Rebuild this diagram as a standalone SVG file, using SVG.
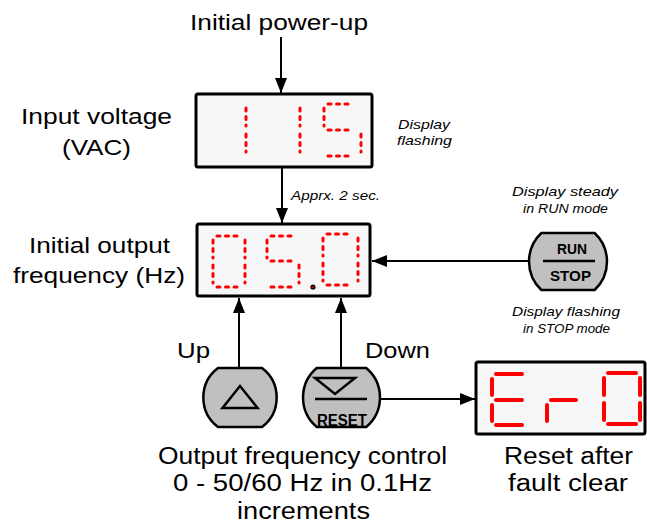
<svg xmlns="http://www.w3.org/2000/svg" width="647" height="527" viewBox="0 0 647 527">
<style>
.lbl{font-family:"Liberation Sans",Arial,sans-serif;font-size:22px;fill:#000;text-anchor:middle}
.big{font-size:23px}
.note{font-family:"Liberation Sans",Arial,sans-serif;font-size:13px;font-style:italic;fill:#000;text-anchor:middle}
.btxt{font-family:"Liberation Sans",Arial,sans-serif;font-size:15px;font-weight:bold;fill:#000;text-anchor:middle}
.disp{fill:#f7f7f7;stroke:#000;stroke-width:3}
.btn{fill:#c0c0c0;stroke:#000;stroke-width:2.5}
.seg{stroke:#ff0000;stroke-width:3;stroke-dasharray:3 5.5;stroke-linecap:round;fill:none}
.sol{stroke:#ff0000;stroke-width:4;stroke-linecap:round;fill:none}
.conn{stroke:#000;stroke-width:2;fill:none;marker-end:url(#ah)}
.ink{stroke:#000;stroke-width:2.5;fill:none}
</style>
<defs>
<marker id="ah" markerUnits="userSpaceOnUse" markerWidth="15" markerHeight="12" refX="15" refY="6" orient="auto">
<path d="M0,0 L15,6 L0,12 Z" fill="#000"/>
</marker>
</defs>

<g id="connectors">
<line class="conn" x1="281" y1="37" x2="281" y2="93"/>
<line class="conn" x1="282" y1="167" x2="282" y2="223"/>
<line class="conn" x1="529" y1="261" x2="372" y2="261"/>
<line class="conn" x1="239" y1="368" x2="239" y2="298"/>
<line class="conn" x1="341" y1="368" x2="341" y2="298"/>
<line class="conn" x1="380" y1="399" x2="475" y2="399"/>
</g>

<g id="power-up">
<text class="lbl" x="279" y="30" textLength="178" lengthAdjust="spacingAndGlyphs">Initial power-up</text>
</g>

<g id="input-voltage-label">
<text class="lbl" x="96.5" y="124" textLength="151" lengthAdjust="spacingAndGlyphs">Input voltage</text>
<text class="lbl" x="96.5" y="155" textLength="69" lengthAdjust="spacingAndGlyphs">(VAC)</text>
</g>

<g id="input-voltage-display">
<rect class="disp" x="196" y="94" width="176" height="73" rx="2"/>
<path class="seg" d="M246,108V126M246,134V152"/>
<path class="seg" d="M300,108V126M300,134V152"/>
<path class="seg" d="M328,104H351M324,108V126M328,130H351M361,134V152M328,156H351"/>
<text class="note" x="424" y="129" textLength="52" lengthAdjust="spacingAndGlyphs">Display</text>
<text class="note" x="424.5" y="145" textLength="55" lengthAdjust="spacingAndGlyphs">flashing</text>
</g>

<g id="delay-label">
<text class="note" x="335.5" y="200" textLength="89" lengthAdjust="spacingAndGlyphs">Apprx. 2 sec.</text>
</g>

<g id="output-frequency-label">
<text class="lbl" x="99.5" y="253" textLength="141" lengthAdjust="spacingAndGlyphs">Initial output</text>
<text class="lbl" x="99" y="283" textLength="172" lengthAdjust="spacingAndGlyphs">frequency (Hz)</text>
</g>

<g id="output-frequency-display">
<rect class="disp" x="197" y="224" width="173" height="72" rx="2"/>
<path class="seg" d="M217,236H238M213,240V258M213,265V283M245,240V258M245,265V283M217,287H238"/>
<path class="seg" d="M271,236H292M267,240V258M271,261H292M299,265V283M271,287H292"/>
<circle cx="313" cy="287" r="2.6" fill="#000"/>
<line x1="311.8" y1="288" x2="314.2" y2="286" stroke="#ff0000" stroke-width="1.2"/>
<path class="seg" d="M327,234H352M323,238V256M323,263V281M358,238V256M358,263V281M327,285H352"/>
</g>

<g id="run-stop-button">
<text class="note" x="565" y="196" textLength="106" lengthAdjust="spacingAndGlyphs">Display steady</text>
<text class="note" x="565.5" y="213" textLength="85" lengthAdjust="spacingAndGlyphs">in RUN mode</text>
<path class="btn" d="M541.4,233H594.6A39 39 0 0 1 594.6,290H541.4A39 39 0 0 1 541.4,233Z"/>
<line class="ink" x1="543" y1="261" x2="595" y2="261"/>
<text class="btxt" x="572" y="254" textLength="30" lengthAdjust="spacingAndGlyphs">RUN</text>
<text class="btxt" x="570.5" y="281" textLength="41" lengthAdjust="spacingAndGlyphs">STOP</text>
<text class="note" x="566" y="316" textLength="108" lengthAdjust="spacingAndGlyphs">Display flashing</text>
<text class="note" x="566.5" y="333" textLength="87" lengthAdjust="spacingAndGlyphs">in STOP mode</text>
</g>

<g id="up-button">
<text class="lbl" x="193.5" y="358" textLength="33" lengthAdjust="spacingAndGlyphs">Up</text>
<path class="btn" d="M218,368H262A37 37 0 0 1 262,427H218A37 37 0 0 1 218,368Z"/>
<path class="ink" d="M240,386L257.5,408H222.5Z" stroke-linejoin="miter"/>
</g>

<g id="reset-button">
<text class="lbl" x="397.5" y="358" textLength="65" lengthAdjust="spacingAndGlyphs">Down</text>
<path class="btn" d="M316.8,368H366.2A38.5 38.5 0 0 1 366.2,427H316.8A38.5 38.5 0 0 1 316.8,368Z"/>
<path class="ink" d="M315,378H355L335,394Z"/>
<line class="ink" x1="315" y1="399" x2="367" y2="399"/>
<text class="btxt" x="342" y="426" textLength="50" lengthAdjust="spacingAndGlyphs" style="font-size:16px">RESET</text>
</g>

<g id="error-display">
<rect class="disp" x="476" y="362" width="169" height="72" rx="2"/>
<path class="sol" d="M496,374H522M492,379V395M496,400H522M492,405V421M496,425H522"/>
<path class="sol" d="M547,405V421M551,400H576"/>
<path class="sol" d="M608,373H636M604,378V395M604,403V420M640,378V395M640,403V420M608,424H636"/>
</g>

<g id="frequency-control-label">
<text class="lbl big" x="302.5" y="464" textLength="289" lengthAdjust="spacingAndGlyphs">Output frequency control</text>
<text class="lbl big" x="302.5" y="491" textLength="259" lengthAdjust="spacingAndGlyphs">0 - 50/60 Hz in 0.1Hz</text>
<text class="lbl big" x="303.5" y="519" textLength="133" lengthAdjust="spacingAndGlyphs">increments</text>
</g>

<g id="reset-label">
<text class="lbl big" x="568.5" y="464" textLength="129" lengthAdjust="spacingAndGlyphs">Reset after</text>
<text class="lbl big" x="568" y="491" textLength="120" lengthAdjust="spacingAndGlyphs">fault clear</text>
</g>
</svg>
